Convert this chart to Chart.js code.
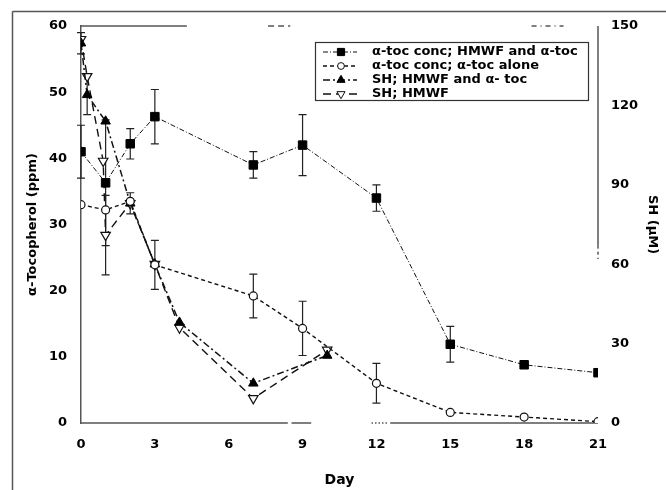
<!DOCTYPE html>
<html><head><meta charset="utf-8">
<script src="https://cdn.jsdelivr.net/npm/chart.js@4"></script>
<style>html,body{margin:0;padding:0;background:#fff}#wrap{width:666px;height:490px;position:relative}</style>
</head><body><div id="wrap"><canvas id="c" width="666" height="490"></canvas></div>
<script>
// ---- data ----
const daysTocHMWF = [0, 1, 2, 3, 7, 9, 12, 15, 18, 21];
const tocHMWF     = [41, 36.3, 42.2, 46.3, 39, 42, 34, 11.9, 8.8, 7.6];
const tocHMWFErr  = [4, 9.5, 2.3, 4.1, 2, 4.6, 2, 2.7, 0, 0];

const daysTocAlone = [0, 1, 2, 3, 7, 9, 12, 15, 18, 21];
const tocAlone     = [33, 32.2, 33.5, 23.9, 19.2, 14.3, 6.0, 1.6, 0.9, 0.2];
const tocAloneErr  = [0, 0, 0, 3.7, 3.3, 4.1, 3, 0, 0, 0];

const daysSHBoth = [0, 0.25, 1, 2, 3, 4, 7, 10];
const shBoth     = [143.5, 124, 114, 83, 60, 38, 15, 25.5];
const shBothErr  = [4, 7.5, 0, 4, 0, 0, 0, 0];

const daysSHHMWF = [0, 0.25, 0.9, 1, 2, 3, 4, 7, 10];
const shHMWF     = [145, 131, 99, 71, 83, 60, 36, 9.3, 27.6];
const shHMWFErr  = [0, 0, 0, 15, 0, 0, 0, 0, 0];

const xTicks = [0, 3, 6, 9, 12, 15, 18, 21];
const leftTicks = [0, 10, 20, 30, 40, 50, 60];
const rightTicks = [0, 30, 60, 90, 120, 150];
const legendLabels = ['α-toc conc; HMWF and α-toc', 'α-toc conc; α-toc alone', 'SH; HMWF and α- toc', 'SH; HMWF'];

const pts = (xs, ys) => xs.map((x, i) => ({x: x, y: ys[i]}));
const FONT = 'DejaVu Sans';
const tickFont = {family: FONT, weight: 'bold', size: 13};

const errorBars = {
  id: 'errorBars',
  beforeDatasetsDraw(chart) {
    const ctx = chart.ctx;
    ctx.save();
    ctx.strokeStyle = '#222';
    ctx.lineWidth = 1.2;
    ctx.setLineDash([]);
    chart.data.datasets.forEach((ds, di) => {
      const meta = chart.getDatasetMeta(di);
      const ys = chart.scales[ds.yAxisID];
      (ds.errors || []).forEach((e, i) => {
        if (!e) return;
        const p = meta.data[i];
        const v = ds.data[i].y;
        const t = ys.getPixelForValue(v + e), b = ys.getPixelForValue(v - e);
        ctx.beginPath();
        ctx.moveTo(p.x, t); ctx.lineTo(p.x, b);
        ctx.moveTo(p.x - 4, t); ctx.lineTo(p.x + 4, t);
        ctx.moveTo(p.x - 4, b); ctx.lineTo(p.x + 4, b);
        ctx.stroke();
      });
    });
    ctx.restore();
  }
};

const frame = {
  id: 'frame',
  beforeDatasetsDraw(chart) {
    const ctx = chart.ctx;
    const xs = chart.scales.x, yl = chart.scales.y, yr = chart.scales.y1;
    const X = d => xs.getPixelForValue(d);
    const top = yl.getPixelForValue(60), bot = yl.getPixelForValue(0);
    ctx.save();
    ctx.strokeStyle = '#555';
    ctx.lineWidth = 1.5;
    const seg = (x1, y1, x2, y2, dash) => {
      ctx.setLineDash(dash || []);
      ctx.beginPath(); ctx.moveTo(x1, y1); ctx.lineTo(x2, y2); ctx.stroke();
    };
    // outer figure border
    seg(12.5, 11.5, 666, 11.5);
    seg(12.5, 11.5, 12.5, 490);
    // top frame line (broken, as in the scan)
    seg(X(0), top, X(4.3), top);
    seg(X(7.6), top, X(8.5), top, [6, 4]);
    seg(X(18.3), top, X(19.6), top, [5, 4, 1, 4]);
    // right axis line
    seg(X(21), top, X(21), yr.getPixelForValue(67));
    seg(X(21), yr.getPixelForValue(67), X(21), yr.getPixelForValue(62), [3, 3]);
    // bottom axis line
    seg(X(0), bot, X(8.4), bot);
    seg(X(8.55), bot, X(9.35), bot);
    seg(X(11.8), bot, X(12.5), bot, [1.5, 2]);
    seg(X(12.56), bot, X(21), bot);
    ctx.restore();
  }
};

const legendBox = {
  id: 'legendBox',
  afterDraw(chart) {
    const ctx = chart.ctx;
    ctx.save();
    ctx.strokeStyle = '#333';
    ctx.lineWidth = 1.2;
    ctx.setLineDash([]);
    ctx.strokeRect(315.5, 42.5, 273, 58);
    chart.data.datasets.forEach((ds, i) => {
      const y = 52 + 14 * i;
      ctx.strokeStyle = ds.borderColor;
      ctx.lineWidth = ds.borderWidth;
      ctx.setLineDash(ds.borderDash || []);
      ctx.beginPath(); ctx.moveTo(323, y); ctx.lineTo(357, y); ctx.stroke();
      ctx.setLineDash([]);
      ctx.fillStyle = ds.pointBackgroundColor;
      ctx.strokeStyle = ds.pointBorderColor;
      ctx.lineWidth = 1;
      Chart.helpers.drawPoint(ctx, {pointStyle: ds.pointStyle, rotation: ds.pointRotation || 0,
        radius: ds.pointRadius * 0.85, borderWidth: 1}, 341, y);
      ctx.fillStyle = '#000';
      ctx.font = 'bold 13px "' + FONT + '"';
      ctx.textBaseline = 'middle';
      ctx.textAlign = 'left';
      ctx.fillText(legendLabels[i], 372, y);
    });
    ctx.restore();
  }
};

const fixTicks = arr => (s) => { s.ticks = arr.map(v => ({value: v})); };

new Chart(document.getElementById('c'), {
  type: 'line',
  data: {
    datasets: [
      {label: legendLabels[0], data: pts(daysTocHMWF, tocHMWF), errors: tocHMWFErr, yAxisID: 'y',
       borderColor: '#111', borderWidth: 1, borderDash: [5, 2, 1, 2],
       pointStyle: 'rect', pointRadius: 6, pointBackgroundColor: '#000', pointBorderColor: '#000', pointBorderWidth: 1},
      {label: legendLabels[1], data: pts(daysTocAlone, tocAlone), errors: tocAloneErr, yAxisID: 'y',
       borderColor: '#111', borderWidth: 1.4, borderDash: [4, 3],
       pointStyle: 'circle', pointRadius: 4, pointBackgroundColor: '#fff', pointBorderColor: '#111', pointBorderWidth: 1.2},
      {label: legendLabels[2], data: pts(daysSHBoth, shBoth), errors: shBothErr, yAxisID: 'y1',
       borderColor: '#111', borderWidth: 1.5, borderDash: [7, 3, 2, 3],
       pointStyle: 'triangle', pointRadius: 5.5, pointBackgroundColor: '#000', pointBorderColor: '#000', pointBorderWidth: 1},
      {label: legendLabels[3], data: pts(daysSHHMWF, shHMWF), errors: shHMWFErr, yAxisID: 'y1',
       borderColor: '#111', borderWidth: 1.4, borderDash: [8, 5],
       pointStyle: 'triangle', pointRotation: 180, pointRadius: 5.5, pointBackgroundColor: '#fff', pointBorderColor: '#111', pointBorderWidth: 1.2}
    ]
  },
  options: {
    responsive: false, animation: false, devicePixelRatio: 1,
    layout: {padding: {left: 14, top: 26, right: 0, bottom: 0}},
    plugins: {legend: {display: false}, tooltip: {enabled: false}},
    elements: {line: {tension: 0, fill: false}},
    scales: {
      x: {type: 'linear', min: 0, max: 21,
        afterBuildTicks: fixTicks(xTicks),
        afterFit: s => { s.height = 67; },
        grid: {display: false, drawTicks: false}, border: {display: false},
        ticks: {font: tickFont, color: '#000', padding: 14, maxRotation: 0},
        title: {display: true, text: 'Day', color: '#000', font: {family: FONT, weight: 'bold', size: 14}, padding: {top: 0, bottom: 1}}},
      y: {type: 'linear', position: 'left', min: 0, max: 60,
        afterBuildTicks: fixTicks(leftTicks),
        afterFit: s => { s.width = 67; },
        grid: {display: false, drawTicks: false}, border: {display: true, color: '#555', width: 1.5},
        ticks: {font: tickFont, color: '#000', padding: 14},
        title: {display: true, text: 'α-Tocopherol (ppm)', color: '#000', font: {family: FONT, weight: 'bold', size: 13}, padding: {top: 11, bottom: 0}}},
      y1: {type: 'linear', position: 'right', min: 0, max: 150,
        afterBuildTicks: fixTicks(rightTicks),
        afterFit: s => { s.width = 68; },
        grid: {display: false, drawTicks: false}, border: {display: false},
        ticks: {font: tickFont, color: '#000', padding: 13},
        title: {display: true, text: 'SH (µM)', color: '#000', font: {family: FONT, weight: 'bold', size: 13}, padding: {top: 6, bottom: 0}}}
    }
  },
  plugins: [frame, errorBars, legendBox]
});
</script>
</body></html>
